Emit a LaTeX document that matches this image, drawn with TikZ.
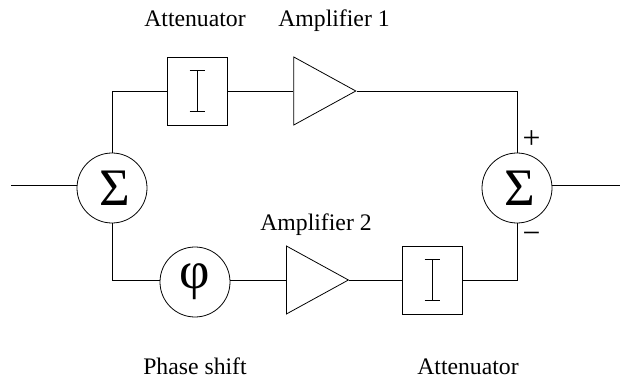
\documentclass[tikz,border=0pt]{standalone}
\usepackage{fontspec}
\setmainfont{Liberation Serif}
\usepackage{tikz}
\usetikzlibrary{positioning, shapes.geometric}

\begin{document}
\begin{tikzpicture}[
    line width=0.45pt,
    sumnode/.style={draw, circle, inner sep=0pt, minimum size=1.4cm, font=\fontsize{30}{30}\selectfont},
    attnode/.style={draw, rectangle, inner sep=0pt, minimum width=1.2cm, minimum height=1.36cm,
        path picture={
            \draw (path picture bounding box.center) ++(-0.15,0.41) -- ++(0.3,0)
                  (path picture bounding box.center) ++(-0.15,-0.41) -- ++(0.3,0)
                  (path picture bounding box.center) ++(0,0.41) -- ++(0,-0.82);
        }},
    ampnode/.style={draw, isosceles triangle, isosceles triangle apex angle=57.5, inner sep=0pt,
        minimum height=1.24cm, minimum width=1.36cm, isosceles triangle stretches=true},
    lbl/.style={anchor=base, inner sep=0pt, font=\fontsize{13.5}{13.5}\selectfont},
    sign/.style={inner sep=0pt, font=\fontsize{18}{18}\selectfont}
]
\useasboundingbox (0,0) rectangle (12.42,7.56);

\node[sumnode] (sumin) at (2.24,3.80) {\kern3pt Σ};
\node[attnode] (attA) at (3.94,5.74) {};
\node[ampnode, right=1.32cm of attA.east, anchor=west] (ampA) {};
\node[sumnode] (sumout) at (10.34,3.80) {\kern3pt Σ};
\node[sumnode] (phase) at (3.90,1.92) {φ};
\node[ampnode, anchor=west] (ampB) at (5.72,1.96) {};
\node[attnode] (attB) at (8.64,1.96) {};

\coordinate (in) at (0.22,3.86);
\coordinate (out) at (12.40,3.86);

\draw (in) -- (in -| sumin.west);
\draw (sumin.north) |- (attA.west);
\draw (attA.east) -- (ampA.west);
\draw (ampA.apex) -| (sumout.north);
\draw (sumin.south) |- (ampB.west -| phase.west);
\draw (phase.east |- ampB.west) -- (ampB.west);
\draw (ampB.apex) -- (attB.west);
\draw (attB.east) -| (sumout.south);
\draw (out -| sumout.east) -- (out);

\node[lbl] (lblAttA) at (3.90,7.02) {Attenuator};
\node[lbl] (lblAmpA) at (6.68,7.02) {Amplifier 1};
\node[lbl] (lblAmpB) at (6.32,2.96) {Amplifier 2};
\node[lbl] (lblPhase) at (3.90,0.08) {Phase shift};
\node[lbl] (lblAttB) at (9.36,0.08) {Attenuator};
\node[sign] (plus) at (10.63,4.76) {+};
\node[sign] (minus) at (10.63,2.80) {−};
\end{tikzpicture}
\end{document}
